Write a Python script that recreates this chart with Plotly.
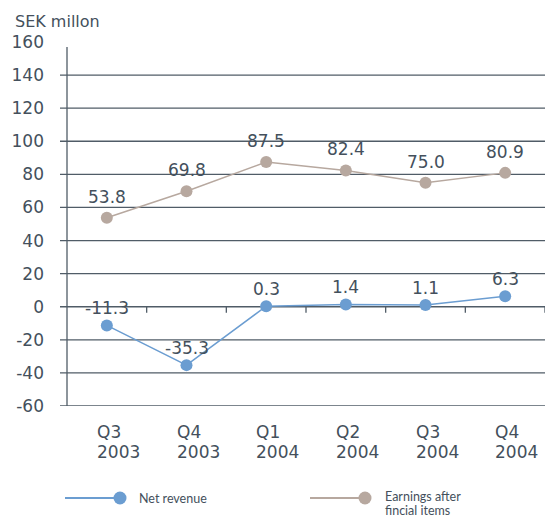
import plotly.graph_objects as go

categories = ["Q3<br>2003", "Q4<br>2003", "Q1<br>2004", "Q2<br>2004", "Q3<br>2004", "Q4<br>2004"]
net_revenue = [-11.3, -35.3, 0.3, 1.4, 1.1, 6.3]
earnings = [53.8, 69.8, 87.5, 82.4, 75.0, 80.9]
y_ticks = [-60, -40, -20, 0, 20, 40, 60, 80, 100, 120, 140, 160]

BLUE = "#6b9dd1"
TAUPE = "#b7a89f"
GRID = "#505c67"
TEXT = "#44505c"
FONT = "DejaVu Sans"

W, H = 549, 519
ML, MR, MT, MB = 67, 4, 42, 113
PW = W - ML - MR
PH = H - MT - MB

def px_x(p):
    return (p - ML) / PW

def px_y(p):
    return (H - MB - p) / PH

xs = list(range(len(categories)))

fig = go.Figure()
fig.add_trace(go.Scatter(x=xs, y=earnings, mode="lines+markers",
                         line=dict(color=TAUPE, width=1.5),
                         marker=dict(color=TAUPE, size=12), showlegend=False))
fig.add_trace(go.Scatter(x=xs, y=net_revenue, mode="lines+markers",
                         line=dict(color=BLUE, width=1.5),
                         marker=dict(color=BLUE, size=12), showlegend=False))

shapes = []
# gridlines (no line at top value)
for v in y_ticks[:-1]:
    shapes.append(dict(type="line", xref="paper", yref="y", x0=-7 / PW, x1=1,
                       y0=v, y1=v, line=dict(color=GRID, width=1.3), layer="below"))
# y axis line
shapes.append(dict(type="line", xref="paper", yref="y", x0=0, x1=0,
                   y0=-60, y1=157, line=dict(color=GRID, width=1.3), layer="below"))
# small ticks on the zero line between categories
for i in xs:
    shapes.append(dict(type="line", xref="x", yref="y", x0=i + 0.5, x1=i + 0.5,
                       y0=0, y1=-3.6, line=dict(color=GRID, width=1.3), layer="below"))

annotations = []
# data labels
for i, v in enumerate(earnings):
    annotations.append(dict(x=i, y=v, xref="x", yref="y", text=f"{v:.1f}",
                            showarrow=False, yanchor="bottom", yshift=9,
                            font=dict(family=FONT, size=17, color=TEXT)))
for i, v in enumerate(net_revenue):
    annotations.append(dict(x=i, y=v, xref="x", yref="y", text=f"{v:.1f}",
                            showarrow=False, yanchor="bottom", yshift=5,
                            font=dict(family=FONT, size=17, color=TEXT)))
# x category labels (left aligned, tight line spacing)
for i, c in enumerate(categories):
    for k, part in enumerate(c.split("<br>")):
        annotations.append(dict(x=i, y=0, xref="x", yref="paper", text=part,
                                showarrow=False, xanchor="left", yanchor="middle",
                                xshift=-11, yshift=-26 - 20 * k, borderpad=0,
                                font=dict(family=FONT, size=17, color=TEXT)))
# axis title
annotations.append(dict(x=px_x(13), y=px_y(22), xref="paper", yref="paper",
                        text="SEK millon", showarrow=False, xanchor="left",
                        yanchor="middle", font=dict(family=FONT, size=16, color=TEXT)))

# custom legend
legend_items = [
    ("Net revenue", BLUE, 65, 120, 138, [498]),
    ("Earnings after<br>fincial items", TAUPE, 310, 365, 384, [496, 511]),
]
for name, col, lx0, lx1, tx, tys in legend_items:
    y_line = px_y(498)
    shapes.append(dict(type="line", xref="paper", yref="paper", x0=px_x(lx0), x1=px_x(lx1),
                       y0=y_line, y1=y_line, line=dict(color=col, width=2)))
    shapes.append(dict(type="circle", xref="paper", yref="paper",
                       xsizemode="pixel", ysizemode="pixel",
                       xanchor=px_x(lx1), yanchor=y_line,
                       x0=-6.5, x1=6.5, y0=-6.5, y1=6.5,
                       fillcolor=col, line=dict(color=col, width=0)))
    for part, ty in zip(name.split("<br>"), tys):
        annotations.append(dict(x=px_x(tx), y=px_y(ty), xref="paper", yref="paper",
                                text=part, showarrow=False, xanchor="left", yanchor="middle",
                                borderpad=0,
                                font=dict(family="Lato", size=12.5, color=TEXT)))

fig.update_layout(
    width=W, height=H,
    margin=dict(l=ML, r=MR, t=MT, b=MB),
    paper_bgcolor="white", plot_bgcolor="white",
    shapes=shapes, annotations=annotations,
    xaxis=dict(range=[-0.5, len(categories) - 0.5], showgrid=False, zeroline=False,
               showline=False, showticklabels=False, ticks=""),
    yaxis=dict(range=[-60, 160], tickvals=y_ticks, ticktext=[str(v) for v in y_ticks],
               showgrid=False, zeroline=False, showline=False, ticks="",
               ticklabelstandoff=22,
               tickfont=dict(family=FONT, size=17, color=TEXT)),
    font=dict(family=FONT, color=TEXT),
)

fig.write_html("out.html")
